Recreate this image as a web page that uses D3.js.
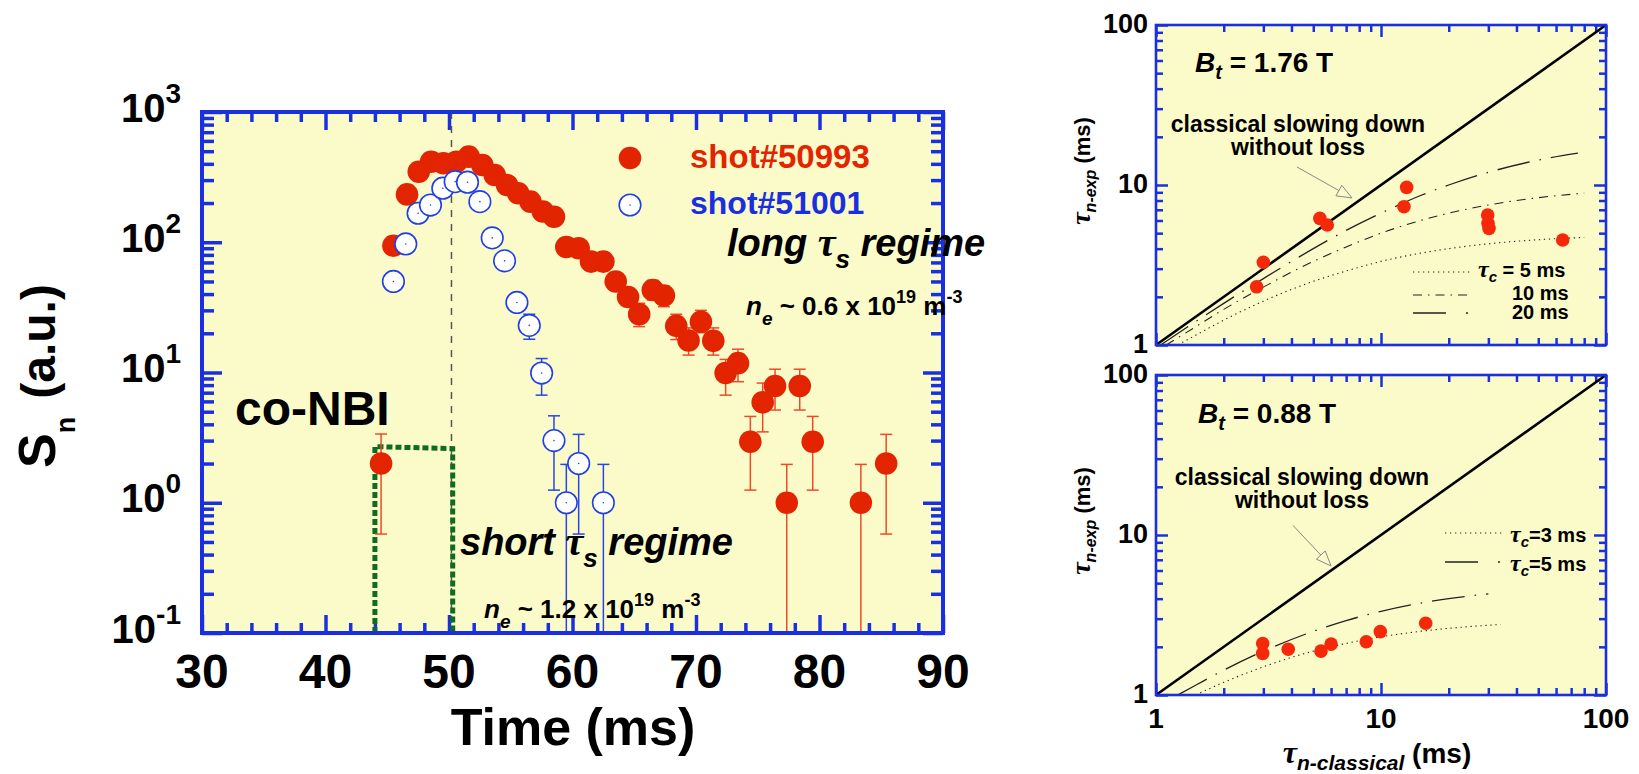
<!DOCTYPE html>
<html>
<head>
<meta charset="utf-8">
<script src="https://cdn.jsdelivr.net/npm/d3@7"></script>
<style>
  body { margin: 0; background: #fff; }
  svg { font-family: "Liberation Sans", Arial, Helvetica, sans-serif; font-weight: bold; }
  .tau { font-family: "Liberation Serif", "DejaVu Serif", serif; font-style: italic; }
</style>
</head>
<body>
<svg width="1639" height="774"></svg>
<script>
/* left panel: neutron rate S_n vs time, two shots */
var redTime  = [44.5, 45.5, 46.6, 47.55, 48.55, 49.55, 50.6, 51.6, 52.7, 53.7, 54.7, 55.6, 56.6, 57.6, 58.5,
                59.5, 60.5, 61.5, 62.5, 63.5, 64.5, 65.4, 66.5, 67.4, 68.4, 69.4, 70.4, 71.4, 72.4, 73.4,
                74.4, 75.4, 76.4, 77.35, 78.4, 79.45, 83.35, 85.4];
var redValue = [2.0, 94, 233, 348, 415, 404, 415, 454, 392, 328, 275, 238, 205, 172, 157,
                92, 90, 71, 71, 50, 38, 28, 43, 39, 22.8, 17.6, 24.5, 17.5, 9.9, 11.8,
                2.94, 5.9, 7.87, 1.0, 7.87, 2.94, 1.0, 2.0];
var redLow   = [0.575, null, null, null, null, null, null, null, null, null, null, null, null, null, null,
                null, null, null, null, null, null, 22.5, 36, 32, 17.9, 13.6, 20.2, 13.6, 6.7, 8.5,
                1.25, 3.5, 5.15, 0.01, 5.15, 1.25, 0.01, 0.575];
var redHigh  = [3.37, null, null, null, null, null, null, null, null, null, null, null, null, null, null,
                null, null, null, null, null, null, 34, 51, 46, 28, 22, 30, 22, 12.6, 15.1,
                4.6, 8.3, 10.6, 1.97, 10.6, 4.6, 1.97, 3.35];

var blueTime  = [45.5, 46.5, 47.5, 48.5, 49.5, 50.5, 51.5, 52.5, 53.5, 54.5, 55.5, 56.5, 57.5, 58.5, 59.5, 60.5, 62.5];
var blueValue = [50, 97, 167, 193, 260, 292, 289, 205, 108, 72, 34.5, 23, 9.9, 3.0, 1.0, 2.0, 1.0];
var blueLow   = [null, null, null, null, null, null, null, null, null, null, null, 18, 6.7, 1.25, 0.01, 0.575, 0.01];
var blueHigh  = [null, null, null, null, null, null, null, null, null, null, null, 28, 12.8, 4.65, 1.97, 3.35, 1.97];

var nbiTime  = [44, 44, 50.3, 50.3];
var nbiLevel = [0.1, 2.7, 2.6, 0.1];
var nbiEnd = 50.2;

var timeDomain = [30, 90];
var snDomain = [0.1, 1000];
var timeTicks = [30, 40, 50, 60, 70, 80, 90];
var snPowers = [-1, 0, 1, 2, 3];

/* right panels: tau_n-exp vs tau_n-classical */
var topTauCl  = [2.8, 3.0, 5.35, 5.77, 13.0, 12.65, 29.8, 29.9, 30.2, 64.2];
var topTauExp = [2.31, 3.29, 6.19, 5.62, 9.67, 7.32, 6.49, 5.76, 5.36, 4.53];
var botTauCl  = [2.98, 2.98, 3.87, 5.41, 6.0, 8.6, 9.93, 15.8];
var botTauExp = [2.10, 1.82, 1.93, 1.88, 2.08, 2.15, 2.49, 2.81];

var top5X  = [1.25, 1.5, 2, 3, 5, 7, 10, 15, 20, 30, 50, 80];
var top5Y  = [1.0, 1.15, 1.43, 1.88, 2.5, 2.9, 3.33, 3.75, 4.0, 4.29, 4.55, 4.7];
var top10X = [1.11, 1.5, 2, 3, 5, 7, 10, 15, 20, 30, 50, 80];
var top10Y = [1.0, 1.3, 1.67, 2.3, 3.33, 4.1, 5.0, 6.0, 6.67, 7.5, 8.33, 8.9];
var top20X = [1.05, 1.5, 2, 3, 5, 7, 10, 15, 20, 30, 50, 75];
var top20Y = [1.0, 1.4, 1.82, 2.6, 4.0, 5.2, 6.67, 8.6, 10, 12, 14.3, 15.8];
var bot3X  = [1.5, 2, 3, 5, 7, 10, 15, 20, 34];
var bot3Y  = [1.0, 1.2, 1.5, 1.88, 2.1, 2.31, 2.5, 2.61, 2.76];
var bot5X  = [1.25, 1.5, 2, 3, 5, 7, 10, 15, 20, 30];
var bot5Y  = [1.0, 1.15, 1.43, 1.88, 2.5, 2.92, 3.33, 3.75, 4.0, 4.29];
var diagX  = [1, 100];
var diagY  = [1, 100];

var tauDomain = [1, 100];
var tauTicks = [1, 10, 100];

var BLUE = "#1a30e0", RED = "#e32400", DOT = "#f5280a", BG = "#fbfbca", GREEN = "#0e6b22";

var svg = d3.select("svg");

/* draws inward ticks on all four sides of a frame */
function frameTicks(g, xs, ys, box, xMajor, xMinor, yMajor, yMinor, lenMaj, lenMin, w) {
  function add(axisFn, scale, vals, len, tx, ty) {
    g.append("g")
      .attr("transform", "translate(" + tx + "," + ty + ")")
      .call(axisFn(scale).tickValues(vals).tickSize(-len).tickFormat(""))
      .call(function(a) {
        a.select(".domain").remove();
        a.selectAll("line").attr("stroke", BLUE).attr("stroke-width", w);
      });
  }
  add(d3.axisBottom, xs, xMajor, lenMaj.x, 0, box.y1);
  add(d3.axisBottom, xs, xMinor, lenMin.x, 0, box.y1);
  add(d3.axisTop, xs, xMajor, lenMaj.x, 0, box.y0);
  add(d3.axisTop, xs, xMinor, lenMin.x, 0, box.y0);
  add(d3.axisLeft, ys, yMajor, lenMaj.y, box.x0, 0);
  add(d3.axisLeft, ys, yMinor, lenMin.y, box.x0, 0);
  add(d3.axisRight, ys, yMajor, lenMaj.y, box.x1, 0);
  add(d3.axisRight, ys, yMinor, lenMin.y, box.x1, 0);
}

/* ---------------- left panel ---------------- */
var L = {x0: 202, x1: 943, y0: 112, y1: 633};
var x = d3.scaleLinear().domain(timeDomain).range([L.x0, L.x1]);
var y = d3.scaleLog().domain(snDomain).range([L.y1, L.y0]);

var gL = svg.append("g");
gL.append("rect").attr("x", L.x0).attr("y", L.y0).attr("width", L.x1 - L.x0).attr("height", L.y1 - L.y0)
  .attr("fill", BG);

var xMinor = d3.range(30, 91, 2).filter(function(d) { return d % 10; });
var yAll = y.ticks();
var yMajor = yAll.filter(function(d) { return Math.abs(Math.log10(d) - Math.round(Math.log10(d))) < 1e-6; });
var yMinor = yAll.filter(function(d) { return yMajor.indexOf(d) < 0; });
frameTicks(gL, x, y, L, timeTicks, xMinor, yMajor, yMinor, {x: 18, y: 20}, {x: 10, y: 12}, 3.5);

/* vertical dashed line at end of NBI */
gL.append("line")
  .attr("x1", x(nbiEnd)).attr("x2", x(nbiEnd)).attr("y1", L.y0).attr("y2", L.y1)
  .attr("stroke", "#555").attr("stroke-width", 1.5).attr("stroke-dasharray", "7,7");

/* NBI pulse */
gL.append("path")
  .datum(d3.zip(nbiTime, nbiLevel))
  .attr("d", d3.line().x(function(d) { return x(d[0]); }).y(function(d) { return y(d[1]); }))
  .attr("fill", "none").attr("stroke", GREEN).attr("stroke-width", 5).attr("stroke-dasharray", "6,3");

function errorBars(g, ts, lo, hi, color) {
  var rows = [];
  ts.forEach(function(t, i) { if (lo[i] != null) rows.push({t: t, lo: Math.max(lo[i], snDomain[0]), hi: hi[i], capLo: lo[i] >= snDomain[0]}); });
  var eb = g.append("g").attr("stroke", color).attr("stroke-width", 1.5);
  eb.selectAll(".v").data(rows).enter().append("line")
    .attr("x1", function(d) { return x(d.t); }).attr("x2", function(d) { return x(d.t); })
    .attr("y1", function(d) { return y(d.lo); }).attr("y2", function(d) { return y(d.hi); });
  eb.selectAll(".h").data(rows).enter().append("line")
    .attr("x1", function(d) { return x(d.t) - 6; }).attr("x2", function(d) { return x(d.t) + 6; })
    .attr("y1", function(d) { return y(d.hi); }).attr("y2", function(d) { return y(d.hi); });
  eb.selectAll(".l").data(rows.filter(function(d) { return d.capLo; })).enter().append("line")
    .attr("x1", function(d) { return x(d.t) - 6; }).attr("x2", function(d) { return x(d.t) + 6; })
    .attr("y1", function(d) { return y(d.lo); }).attr("y2", function(d) { return y(d.lo); });
}
errorBars(gL, blueTime, blueLow, blueHigh, "#2a45e6");
errorBars(gL, redTime, redLow, redHigh, "#ee4a28");

gL.selectAll(".red").data(d3.zip(redTime, redValue)).enter().append("circle")
  .attr("cx", function(d) { return x(d[0]); }).attr("cy", function(d) { return y(d[1]); })
  .attr("r", 11.3).attr("fill", RED);

var blues = gL.selectAll(".blue").data(d3.zip(blueTime, blueValue)).enter();
blues.append("circle")
  .attr("cx", function(d) { return x(d[0]); }).attr("cy", function(d) { return y(d[1]); })
  .attr("r", 10.8).attr("fill", "#fff").attr("stroke", "#2040e6").attr("stroke-width", 1.6);
blues.append("circle")
  .attr("cx", function(d) { return x(d[0]); }).attr("cy", function(d) { return y(d[1]); })
  .attr("r", 0.8).attr("fill", "#2040e6");

/* frame */
gL.append("rect").attr("x", L.x0).attr("y", L.y0).attr("width", L.x1 - L.x0).attr("height", L.y1 - L.y0)
  .attr("fill", "none").attr("stroke", BLUE).attr("stroke-width", 4);

/* tick labels */
gL.selectAll(".xl").data(timeTicks).enter().append("text")
  .attr("x", function(d) { return x(d); }).attr("y", 688)
  .attr("text-anchor", "middle").attr("font-size", 48).text(function(d) { return d; });

var yl = gL.selectAll(".yl").data(snPowers).enter().append("text")
  .attr("x", 181).attr("y", function(p) { return y(Math.pow(10, p)) + 9.5; })
  .attr("text-anchor", "end");
yl.append("tspan").attr("font-size", 40).text("10");
yl.append("tspan").attr("font-size", 28).attr("dy", -19).text(function(p) { return p; });

/* axis titles */
gL.append("text").attr("x", 573).attr("y", 745).attr("text-anchor", "middle").attr("font-size", 52)
  .text("Time (ms)");
var st = gL.append("text").attr("transform", "translate(55,376) rotate(-90)").attr("text-anchor", "middle");
st.append("tspan").attr("font-size", 52).text("S");
st.append("tspan").attr("font-size", 27).attr("dy", 20).text("n");
st.append("tspan").attr("font-size", 48).attr("dy", -20).attr("dx", 18).text("(a.u.)");

/* legend */
gL.append("circle").attr("cx", 630).attr("cy", 158).attr("r", 11.3).attr("fill", RED);
gL.append("circle").attr("cx", 630).attr("cy", 205).attr("r", 10.8).attr("fill", "#fff")
  .attr("stroke", "#2040e6").attr("stroke-width", 1.6);
gL.append("circle").attr("cx", 630).attr("cy", 205).attr("r", 0.8).attr("fill", "#2040e6");
gL.append("text").attr("x", 690).attr("y", 168).attr("font-size", 33).attr("fill", RED).text("shot#50993");
gL.append("text").attr("x", 690).attr("y", 214).attr("font-size", 32).attr("fill", BLUE).text("shot#51001");

/* annotations */
gL.append("text").attr("x", 235).attr("y", 425).attr("font-size", 48).text("co-NBI");

function regime(tx, ty, word) {
  var t = gL.append("text").attr("x", tx).attr("y", ty).attr("font-size", 38).attr("font-style", "italic");
  t.append("tspan").text(word + " ");
  t.append("tspan").attr("class", "tau").attr("font-size", 40).text("τ");
  t.append("tspan").attr("font-size", 26).attr("dy", 12).text("s");
  t.append("tspan").attr("dy", -12).text(" regime");
}
regime(727, 256, "long");
regime(460, 555, "short");

function density(tx, ty, val) {
  var t = gL.append("text").attr("x", tx).attr("y", ty).attr("font-size", 26);
  t.append("tspan").attr("font-style", "italic").text("n");
  t.append("tspan").attr("font-style", "italic").attr("font-size", 19).attr("dy", 10).text("e");
  t.append("tspan").attr("dy", -10).text(" ~ " + val + " x 10");
  t.append("tspan").attr("font-size", 18).attr("dy", -12).text("19");
  t.append("tspan").attr("dy", 12).text(" m");
  t.append("tspan").attr("font-size", 18).attr("dy", -12).text("-3");
}
density(746, 315, "0.6");
density(484, 618, "1.2");

/* ---------------- right panels ---------------- */
var R = {x0: 1156, x1: 1606};
var xr = d3.scaleLog().domain(tauDomain).range([R.x0, R.x1]);
var tAll = xr.ticks();
var tMinor = tAll.filter(function(d) { return tauTicks.indexOf(d) < 0; });

function panel(y0, y1, tauCl, tauExp, curves, bt, arrow, legend, showX) {
  var B = {x0: R.x0, x1: R.x1, y0: y0, y1: y1};
  var yr = d3.scaleLog().domain(tauDomain).range([y1, y0]);
  var g = svg.append("g");
  g.append("rect").attr("x", B.x0).attr("y", y0).attr("width", B.x1 - B.x0).attr("height", y1 - y0).attr("fill", BG);
  frameTicks(g, xr, yr, B, tauTicks, tMinor, tauTicks, tMinor, {x: 12, y: 12}, {x: 7, y: 7}, 2.5);

  var line = d3.line().x(function(d) { return xr(d[0]); }).y(function(d) { return yr(d[1]); })
    .curve(d3.curveMonotoneX);
  g.append("path").datum(d3.zip(diagX, diagY)).attr("d", line)
    .attr("fill", "none").attr("stroke", "#000").attr("stroke-width", 2.6);
  curves.forEach(function(c) {
    g.append("path").datum(d3.zip(c.x, c.y)).attr("d", line)
      .attr("fill", "none").attr("stroke", "#222").attr("stroke-width", c.w).attr("stroke-dasharray", c.dash);
  });

  g.selectAll(".pt").data(d3.zip(tauCl, tauExp)).enter().append("circle")
    .attr("cx", function(d) { return xr(d[0]); }).attr("cy", function(d) { return yr(d[1]); })
    .attr("r", 6.8).attr("fill", DOT);

  g.append("rect").attr("x", B.x0).attr("y", y0).attr("width", B.x1 - B.x0).attr("height", y1 - y0)
    .attr("fill", "none").attr("stroke", BLUE).attr("stroke-width", 2.6);

  /* labels */
  g.selectAll(".yl").data(tauTicks).enter().append("text")
    .attr("x", 1148).attr("y", function(d) { return yr(d) + 8; })
    .attr("text-anchor", "end").attr("font-size", 27).text(function(d) { return d; });
  if (showX) {
    g.selectAll(".xl").data(tauTicks).enter().append("text")
      .attr("x", function(d) { return xr(d); }).attr("y", 728)
      .attr("text-anchor", "middle").attr("font-size", 28).text(function(d) { return d; });
  }
  var yt = g.append("text").attr("transform", "translate(1090," + ((y0 + y1) / 2 - 14) + ") rotate(-90)")
    .attr("text-anchor", "middle");
  yt.append("tspan").attr("class", "tau").attr("font-size", 28).text("τ");
  yt.append("tspan").attr("font-size", 16).attr("font-style", "italic").attr("dy", 6).text("n-exp");
  yt.append("tspan").attr("font-size", 22).attr("dy", -6).text(" (ms)");

  var bl = g.append("text").attr("x", bt.x).attr("y", bt.y).attr("font-size", 28);
  bl.append("tspan").attr("font-style", "italic").text("B");
  bl.append("tspan").attr("font-style", "italic").attr("font-size", 20).attr("dy", 7).text("t");
  bl.append("tspan").attr("dy", -7).text(" = " + bt.label);

  g.append("text").attr("x", arrow.tx).attr("y", arrow.ty).attr("text-anchor", "middle").attr("font-size", 23)
    .text("classical slowing down");
  g.append("text").attr("x", arrow.tx).attr("y", arrow.ty + 23).attr("text-anchor", "middle").attr("font-size", 23)
    .text("without loss");

  /* arrow with open head */
  var sx = xr(arrow.from[0]), sy = yr(arrow.from[1]), ex = xr(arrow.to[0]), ey = yr(arrow.to[1]);
  var ang = Math.atan2(ey - sy, ex - sx), hl = 15, hw = 6;
  var bx = ex - hl * Math.cos(ang), by = ey - hl * Math.sin(ang);
  g.append("line").attr("x1", sx).attr("y1", sy).attr("x2", bx).attr("y2", by)
    .attr("stroke", "#888").attr("stroke-width", 1);
  g.append("path")
    .attr("d", "M" + ex + "," + ey +
      "L" + (bx + hw * Math.sin(ang)) + "," + (by - hw * Math.cos(ang)) +
      "L" + (bx - hw * Math.sin(ang)) + "," + (by + hw * Math.cos(ang)) + "Z")
    .attr("fill", BG).attr("stroke", "#888").attr("stroke-width", 1);

  legend.forEach(function(l) {
    g.append("line").attr("x1", l.x1).attr("x2", l.x2).attr("y1", l.y).attr("y2", l.y)
      .attr("stroke", "#222").attr("stroke-width", l.w).attr("stroke-dasharray", l.dash);
    var t = g.append("text").attr("x", l.tx).attr("y", l.y + l.dy).attr("font-size", 20);
    if (l.tau) {
      t.append("tspan").attr("class", "tau").attr("font-size", 24).text("τ");
      t.append("tspan").attr("font-style", "italic").attr("font-size", 15).attr("dy", 5).text("c");
      t.append("tspan").attr("dy", -5).text(l.text);
    } else {
      t.text(l.text);
    }
  });
}

var DOTTED = "1.3,3.7", DASHDOT = "9,6,1.5,6", LONGDASH = "33,10,1.5,10";

panel(25, 345, topTauCl, topTauExp,
  [{x: top5X, y: top5Y, dash: DOTTED, w: 1.1}, {x: top10X, y: top10Y, dash: DASHDOT, w: 1.1},
   {x: top20X, y: top20Y, dash: LONGDASH, w: 1.3}],
  {x: 1195, y: 72, label: "1.76 T"},
  {tx: 1298, ty: 132, from: [4.23, 12.96], to: [7.43, 8.3]},
  [{x1: 1413, x2: 1470, y: 272, dash: DOTTED, w: 1.1, tx: 1478, dy: 5, tau: true, text: " = 5 ms"},
   {x1: 1413, x2: 1470, y: 295, dash: DASHDOT, w: 1.1, tx: 1512, dy: 5, text: "10 ms"},
   {x1: 1413, x2: 1472, y: 313, dash: "33,20,2,10", w: 1.3, tx: 1512, dy: 6, text: "20 ms"}],
  false);

panel(375, 695, botTauCl, botTauExp,
  [{x: bot3X, y: bot3Y, dash: DOTTED, w: 1.1}, {x: bot5X, y: bot5Y, dash: LONGDASH, w: 1.3}],
  {x: 1198, y: 423, label: "0.88 T"},
  {tx: 1302, ty: 485, from: [4.06, 11.5], to: [6.0, 6.4]},
  [{x1: 1445, x2: 1502, y: 533, dash: DOTTED, w: 1.1, tx: 1510, dy: 9, tau: true, text: "=3 ms"},
   {x1: 1445, x2: 1502, y: 562, dash: "33,20,2,10", w: 1.3, tx: 1510, dy: 9, tau: true, text: "=5 ms"}],
  true);

var xt = svg.append("text").attr("x", 1377).attr("y", 763).attr("text-anchor", "middle");
xt.append("tspan").attr("class", "tau").attr("font-size", 32).text("τ");
xt.append("tspan").attr("font-size", 21).attr("font-style", "italic").attr("dy", 7).text("n-classical");
xt.append("tspan").attr("font-size", 28).attr("dy", -7).text(" (ms)");
</script>
</body>
</html>
